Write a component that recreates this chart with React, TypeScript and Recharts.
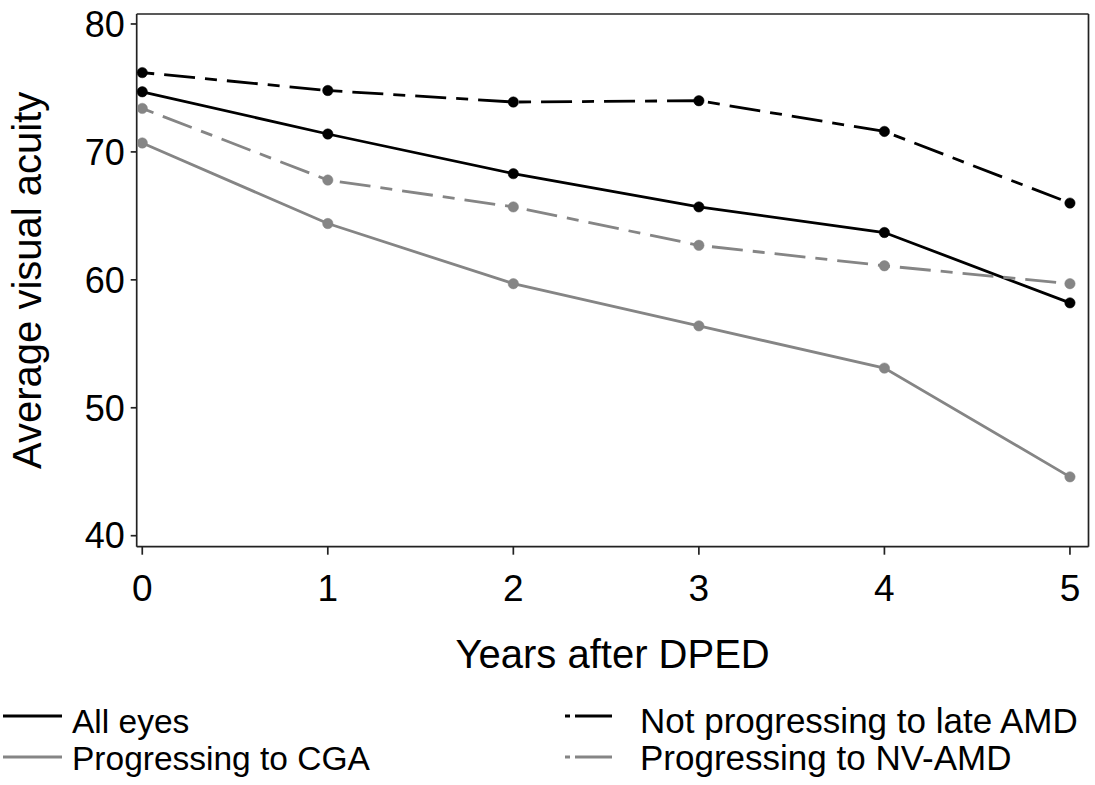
import { LineChart, Line, XAxis, YAxis } from "recharts";

const years = [0, 1, 2, 3, 4, 5];
const allEyes = [74.7, 71.4, 68.3, 65.7, 63.7, 58.2];
const notProgressing = [76.2, 74.8, 73.9, 74.0, 71.6, 66.0];
const progressingCGA = [70.7, 64.4, 59.7, 56.4, 53.1, 44.6];
const progressingNV = [73.4, 67.8, 65.7, 62.7, 61.1, 59.7];

const yTicks = [40, 50, 60, 70, 80];
const xTicks = [0, 1, 2, 3, 4, 5];

const BLACK = "#000000";
const GRAY = "#858585";
const FRAME = "#222222";
const FONT = "'Liberation Sans', Arial, sans-serif";
const DASH = "12 10 31 10";

const data = years.map((year, i) => ({
  year,
  all: allEyes[i],
  notProg: notProgressing[i],
  cga: progressingCGA[i],
  nv: progressingNV[i],
}));

const series = [
  { key: "all", name: "All eyes", color: BLACK, dash: undefined as string | undefined },
  { key: "notProg", name: "Not progressing to late AMD", color: BLACK, dash: DASH },
  { key: "cga", name: "Progressing to CGA", color: GRAY, dash: undefined },
  { key: "nv", name: "Progressing to NV-AMD", color: GRAY, dash: DASH },
];

// legend slots: left column = solid, right column = dashed
const legendSlots = [
  { key: "all", col: 0, row: 0 },
  { key: "notProg", col: 1, row: 0 },
  { key: "cga", col: 0, row: 1 },
  { key: "nv", col: 1, row: 1 },
];

function Legend2() {
  return (
    <svg width={1095} height={95} style={{ position: "absolute", left: 0, top: 690 }}>
      {legendSlots.map((slot) => {
        const s = series.find((x) => x.key === slot.key)!;
        const lineY = slot.row === 0 ? 26 : 67;
        const textY = slot.row === 0 ? 42.5 : 80;
        const x0 = slot.col === 0 ? 3 : 565;
        const x1 = slot.col === 0 ? 62 : 612;
        const tx = slot.col === 0 ? 72 : 640;
        return (
          <g key={s.key}>
            <line
              x1={x0}
              x2={x1}
              y1={lineY}
              y2={lineY}
              stroke={s.color}
              strokeWidth={3}
              strokeDasharray={s.dash ? "5 5 37 100" : undefined}
            />
            <text x={tx} y={textY} fontFamily={FONT} fontSize={slot.col === 0 ? 33.5 : 35} fill="#000">
              {s.name}
            </text>
          </g>
        );
      })}
    </svg>
  );
}

export default function App() {
  return (
    <div style={{ position: "absolute", left: 0, top: 0, width: 1095, height: 785, background: "#fff" }}>
      <LineChart
        width={1095}
        height={690}
        data={data}
        margin={{ top: 13, right: 5.5, bottom: 0, left: 0 }}
      >
        <XAxis
          dataKey="year"
          type="number"
          domain={[-0.03, 5.1]}
          ticks={xTicks}
          allowDataOverflow
          height={143.3}
          stroke={FRAME}
          strokeWidth={1.7}
          tickSize={8}
          tickMargin={20}
          tick={{ fill: "#000", fontSize: 37, fontFamily: FONT }}
          label={(props: any) => {
            const vb = props.viewBox;
            return (
              <text
                x={vb.x + vb.width / 2}
                y={vb.y + 121.6}
                textAnchor="middle"
                fontFamily={FONT}
                fontSize={40}
                fill="#000"
              >
                Years after DPED
              </text>
            );
          }}
        />
        <XAxis
          xAxisId="top"
          orientation="top"
          dataKey="year"
          type="number"
          domain={[-0.03, 5.1]}
          allowDataOverflow
          height={1}
          tick={false}
          tickLine={false}
          stroke={FRAME}
          strokeWidth={1.7}
        />
        <YAxis
          type="number"
          domain={[39.14, 80.78]}
          ticks={yTicks}
          allowDataOverflow
          width={136.7}
          stroke={FRAME}
          strokeWidth={1.7}
          tickSize={6}
          tickMargin={6}
          tick={{ fill: "#000", fontSize: 36, fontFamily: FONT }}
          label={(props: any) => {
            const vb = props.viewBox;
            const cx = vb.x + 41;
            const cy = vb.y + vb.height / 2;
            return (
              <text
                x={cx}
                y={cy}
                transform={`rotate(-90, ${cx}, ${cy})`}
                textAnchor="middle"
                fontFamily={FONT}
                fontSize={40}
                fill="#000"
              >
                Average visual acuity
              </text>
            );
          }}
        />
        <YAxis
          yAxisId="right"
          orientation="right"
          type="number"
          domain={[39.14, 80.78]}
          allowDataOverflow
          width={1}
          tick={false}
          tickLine={false}
          stroke={FRAME}
          strokeWidth={1.7}
        />
        {series.map((s) => (
          <Line
            key={s.key}
            dataKey={s.key}
            name={s.name}
            type="linear"
            stroke={s.color}
            strokeWidth={2.8}
            strokeDasharray={s.dash}
            dot={{ r: 5.2, fill: s.color, stroke: s.color, strokeWidth: 0.5, strokeDasharray: "" }}
            activeDot={false}
            isAnimationActive={false}
          />
        ))}
      </LineChart>
      <Legend2 />
    </div>
  );
}
